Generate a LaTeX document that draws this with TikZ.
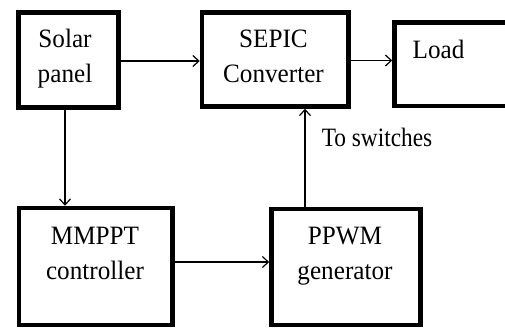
\documentclass[tikz,border=0pt]{standalone}
\usepackage{fontspec}
\setmainfont[FakeStretch=0.95]{Liberation Serif}
\newfontfamily\lblfont[FakeStretch=0.88]{Liberation Serif}
\usetikzlibrary{arrows.meta}
\begin{document}
\begin{tikzpicture}[x=1pt,y=-1pt,
  blockbox/.style={draw=black,line width=4.5pt,rectangle,inner sep=0pt},
  boxtext/.style={inner sep=0pt,align=center,font=\fontsize{26.5pt}{35pt}\selectfont},
  arr/.style={draw=black,line width=1.2pt,-{Straight Barb[length=6pt,width=11pt]}}]
\fill[white] (0,0) rectangle (505,327);
\useasboundingbox (0,0) rectangle (505,327);
% boxes
\node[blockbox,minimum width=100pt,minimum height=95pt] (solar) at (68.5,60) {};
\node[blockbox,minimum width=146.5pt,minimum height=94pt] (sepic) at (275.25,59.5) {};
\node[blockbox,minimum width=125pt,minimum height=83.5pt] (load) at (457,64.25) {};
\node[blockbox,minimum width=153.5pt,minimum height=117pt] (mmppt) at (95.75,266.5) {};
\node[blockbox,minimum width=149pt,minimum height=116pt] (ppwm) at (346,267) {};
% texts
\node[boxtext] (solart) at (65,59) {Solar\\panel};
\node[boxtext] (sepict) at (273.5,56.6) {SEPIC\\Converter};
\node[boxtext] (loadt) at (438.5,49.5) {Load};
\node[boxtext] (mmpptt) at (95,253.8) {MMPPT\\controller};
\node[boxtext] (ppwmt) at (345,256.6) {PPWM\\generator};
\node[inner sep=0pt,font=\lblfont\fontsize{26.5pt}{35pt}\selectfont] (sw) at (377,137) {To switches};
% connectors
\draw[arr] ([yshift=-1pt]solar.east) -- ([yshift=-1pt]solar.east -| sepic.west);
\draw[arr] ([yshift=-1pt]sepic.east) -- ([yshift=-1pt]sepic.east -| load.west);
\draw[arr] ([xshift=-3.5pt]solar.south) -- ([xshift=-3.5pt]solar.south |- mmppt.north);
\draw[arr] ([yshift=4.5pt]mmppt.east) -- ([yshift=4.5pt]mmppt.east -| ppwm.west);
\draw[arr] ([xshift=-41pt]ppwm.north) -- ([xshift=-41pt]ppwm.north |- sepic.south);
\end{tikzpicture}
\end{document}
